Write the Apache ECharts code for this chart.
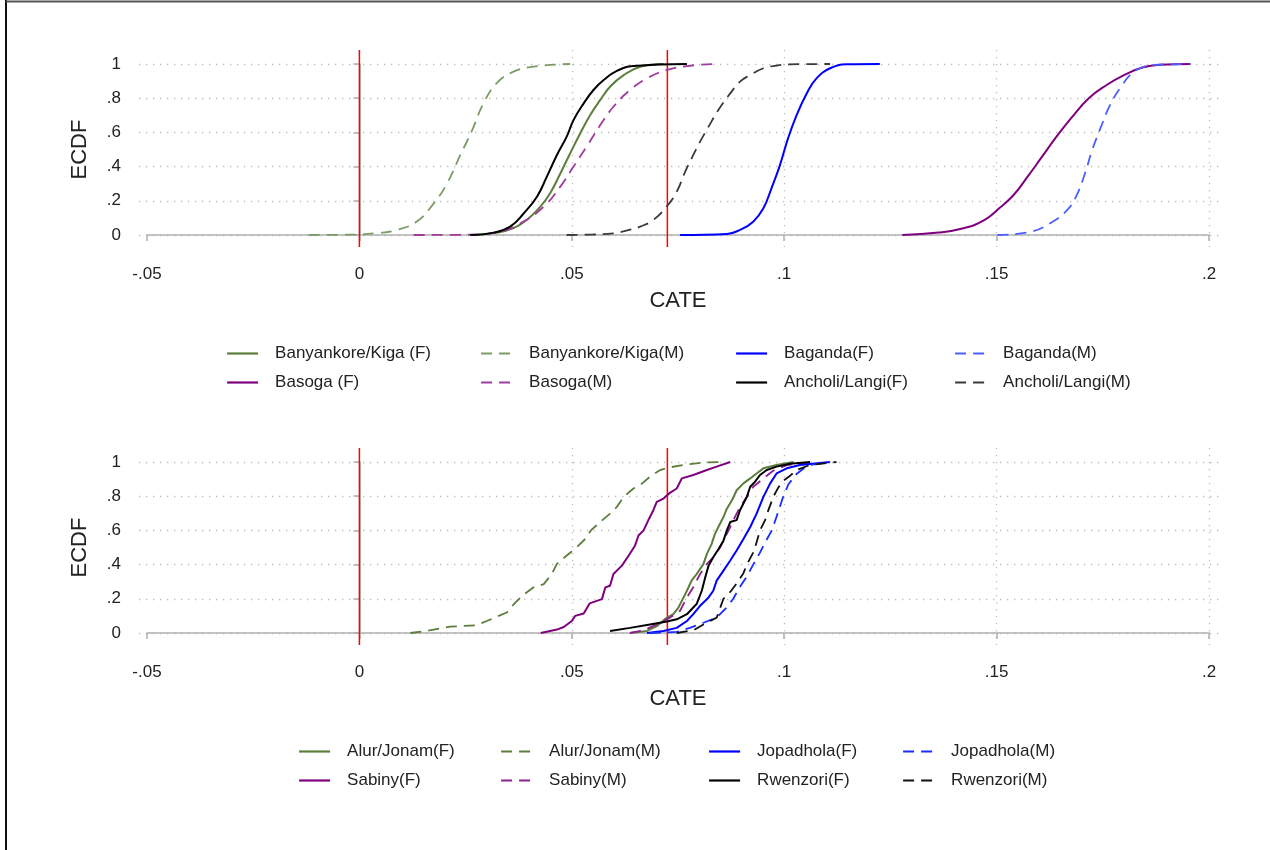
<!DOCTYPE html>
<html><head><meta charset="utf-8">
<script src="https://cdn.jsdelivr.net/npm/echarts@6/dist/echarts.min.js"></script>
<style>html,body{margin:0;padding:0;background:#fff}#c{width:1270px;height:850px}</style>
</head><body><div id="c"></div>
<script>
// ---------- tick labels & reference lines ----------
const xTickLabels = ['-.05', '0', '.05', '.1', '.15', '.2'];
const yTickLabels = ['0', '.2', '.4', '.6', '.8', '1'];
const refLines = [0, 0.0725];

// ---------- top panel: [CATE, ECDF] ----------
const banyankoreF = [[0.0265,0],[0.0324,0.014],[0.0363,0.04],[0.0394,0.088],[0.0426,0.166],[0.0449,0.244],[0.0473,0.36],[0.0496,0.477],[0.0520,0.595],[0.0543,0.70],[0.0567,0.79],[0.0590,0.867],[0.0622,0.935],[0.0661,0.984],[0.0716,1]];
const banyankoreM = [[-0.0119,0],[-0.002,0.002],[0.0045,0.012],[0.0089,0.03],[0.0136,0.08],[0.0175,0.185],[0.0206,0.30],[0.0238,0.47],[0.0265,0.61],[0.0292,0.77],[0.0324,0.89],[0.0363,0.955],[0.041,0.985],[0.0496,1]];
const bagandaF = [[0.0755,0],[0.0865,0.006],[0.0896,0.03],[0.0927,0.078],[0.0951,0.156],[0.097,0.273],[0.099,0.409],[0.1009,0.565],[0.1029,0.70],[0.1053,0.828],[0.1076,0.916],[0.1108,0.975],[0.1147,0.998],[0.1225,1]];
const bagandaM = [[0.1502,0],[0.1582,0.02],[0.1632,0.078],[0.1666,0.146],[0.1687,0.224],[0.1708,0.36],[0.1725,0.497],[0.1746,0.634],[0.1767,0.76],[0.1793,0.867],[0.1818,0.945],[0.1843,0.98],[0.1868,0.994],[0.1957,1]];
const basogaF = [[0.1278,0],[0.1363,0.014],[0.1422,0.039],[0.1472,0.088],[0.1506,0.156],[0.154,0.234],[0.1573,0.341],[0.1607,0.458],[0.1641,0.575],[0.1675,0.682],[0.1717,0.80],[0.1759,0.877],[0.1801,0.936],[0.1843,0.98],[0.1885,0.996],[0.1957,1]];
const basogaM = [[0.0128,0],[0.0261,0.002],[0.0332,0.02],[0.0379,0.068],[0.0434,0.166],[0.0473,0.283],[0.0504,0.40],[0.0535,0.517],[0.0567,0.643],[0.0598,0.75],[0.0637,0.848],[0.0677,0.916],[0.0724,0.965],[0.0771,0.988],[0.0833,1]];
const ancholiF = [[0.0261,0],[0.0316,0.014],[0.0355,0.049],[0.0387,0.127],[0.0418,0.224],[0.0441,0.34],[0.0465,0.468],[0.0488,0.575],[0.0504,0.672],[0.0528,0.77],[0.0551,0.848],[0.0575,0.906],[0.0606,0.96],[0.0645,0.988],[0.0771,1]];
const ancholiM = [[0.0488,0],[0.055,0.003],[0.0598,0.01],[0.0635,0.03],[0.0661,0.049],[0.0692,0.088],[0.0726,0.175],[0.0747,0.253],[0.0767,0.37],[0.0786,0.468],[0.0802,0.546],[0.0822,0.634],[0.0845,0.731],[0.0873,0.828],[0.0896,0.897],[0.092,0.936],[0.0951,0.975],[0.0974,0.988],[0.1013,0.998],[0.1108,1]];

// ---------- bottom panel ----------
const alurF = [[0.0637,0],[0.0677,0.012],[0.070,0.04],[0.0724,0.09],[0.0739,0.11],[0.0751,0.149],[0.0759,0.188],[0.0771,0.247],[0.0782,0.306],[0.0794,0.345],[0.081,0.404],[0.0818,0.463],[0.0829,0.52],[0.0837,0.58],[0.0845,0.62],[0.0857,0.678],[0.0865,0.727],[0.0877,0.776],[0.0888,0.835],[0.0904,0.875],[0.092,0.904],[0.0935,0.933],[0.0951,0.963],[0.0982,0.982],[0.1022,1]];
const alurM = [[0.012,0],[0.0159,0.012],[0.0214,0.037],[0.0273,0.045],[0.030,0.07],[0.0328,0.10],[0.0347,0.12],[0.0367,0.178],[0.0387,0.224],[0.041,0.267],[0.0434,0.286],[0.0453,0.345],[0.0465,0.404],[0.0488,0.453],[0.0512,0.502],[0.0532,0.551],[0.0545,0.6],[0.0567,0.649],[0.059,0.698],[0.0606,0.737],[0.0622,0.796],[0.0645,0.845],[0.0661,0.865],[0.0684,0.914],[0.0708,0.953],[0.0731,0.969],[0.0778,0.988],[0.0817,0.998],[0.0857,1]];
const jopadholaF = [[0.0677,0],[0.0716,0.012],[0.0747,0.03],[0.0771,0.07],[0.0786,0.11],[0.0802,0.159],[0.0822,0.208],[0.0833,0.247],[0.0841,0.306],[0.0857,0.365],[0.0873,0.424],[0.0888,0.482],[0.0904,0.55],[0.092,0.62],[0.0935,0.698],[0.0951,0.796],[0.0967,0.875],[0.0982,0.933],[0.1006,0.963],[0.1037,0.982],[0.1108,1]];
const jopadholaM = [[0.0684,0],[0.0747,0.006],[0.0778,0.03],[0.081,0.06],[0.0841,0.09],[0.0865,0.15],[0.088,0.2],[0.0896,0.27],[0.0912,0.33],[0.0927,0.4],[0.0943,0.47],[0.0955,0.53],[0.0971,0.6],[0.0982,0.68],[0.0998,0.8],[0.1010,0.87],[0.1029,0.93],[0.1045,0.96],[0.106,0.982],[0.1108,1]];
const sabinyF = [[0.0427,0],[0.0465,0.02],[0.0481,0.035],[0.050,0.07],[0.0508,0.10],[0.0528,0.114],[0.0542,0.173],[0.0571,0.198],[0.0579,0.267],[0.059,0.276],[0.0598,0.345],[0.0618,0.394],[0.0634,0.453],[0.0649,0.512],[0.0657,0.57],[0.0669,0.60],[0.068,0.659],[0.0692,0.718],[0.070,0.767],[0.0716,0.786],[0.0731,0.82],[0.0747,0.845],[0.0759,0.904],[0.0786,0.924],[0.0818,0.953],[0.0841,0.973],[0.0873,1]];
const sabinyM = [[0.0637,0],[0.0669,0.016],[0.070,0.05],[0.0731,0.09],[0.0755,0.13],[0.0771,0.208],[0.0786,0.267],[0.0802,0.345],[0.0818,0.404],[0.0833,0.443],[0.0849,0.50],[0.0865,0.58],[0.0873,0.62],[0.0884,0.678],[0.0896,0.737],[0.0912,0.796],[0.0927,0.855],[0.0951,0.904],[0.0974,0.949],[0.1006,0.982],[0.1076,1]];
const rwenzoriF = [[0.059,0.012],[0.0637,0.03],[0.0684,0.05],[0.0724,0.067],[0.0747,0.08],[0.0771,0.11],[0.0786,0.149],[0.0794,0.17],[0.0806,0.247],[0.0814,0.325],[0.0822,0.394],[0.0833,0.443],[0.0845,0.49],[0.0857,0.54],[0.0865,0.60],[0.0873,0.649],[0.0888,0.66],[0.0896,0.718],[0.0904,0.757],[0.0912,0.796],[0.092,0.855],[0.0931,0.884],[0.0943,0.924],[0.0959,0.953],[0.0982,0.973],[0.1014,0.99],[0.1061,1]];
const rwenzoriM = [[0.0747,0],[0.0786,0.016],[0.081,0.05],[0.0841,0.09],[0.0857,0.2],[0.0873,0.24],[0.0888,0.29],[0.0904,0.35],[0.0912,0.4],[0.0927,0.47],[0.0935,0.53],[0.0943,0.60],[0.0955,0.66],[0.0963,0.72],[0.0975,0.8],[0.0986,0.85],[0.0998,0.89],[0.1014,0.92],[0.1029,0.953],[0.106,0.982],[0.1123,1]];

// ---------- series names (legend order by column) ----------
const topNames = ['Banyankore/Kiga (F)', 'Basoga (F)', 'Banyankore/Kiga(M)', 'Basoga(M)', 'Baganda(F)', 'Ancholi/Langi(F)', 'Baganda(M)', 'Ancholi/Langi(M)'];
const topData = [banyankoreF, basogaF, banyankoreM, basogaM, bagandaF, ancholiF, bagandaM, ancholiM];
const botNames = ['Alur/Jonam(F)', 'Sabiny(F)', 'Alur/Jonam(M)', 'Sabiny(M)', 'Jopadhola(F)', 'Rwenzori(F)', 'Jopadhola(M)', 'Rwenzori(M)'];
const botData = [alurF, sabinyF, alurM, sabinyM, jopadholaF, rwenzoriF, jopadholaM, rwenzoriM];

// ---------- styles ----------
const topStyles = [
  {c:'#5b7e3c', d:false}, {c:'#7f007f', d:false}, {c:'#7c9c67', d:true}, {c:'#a03ca0', d:true},
  {c:'#0000ff', d:false}, {c:'#000000', d:false}, {c:'#4d5eff', d:true}, {c:'#3a3a3a', d:true}
];
const botStyles = [
  {c:'#5b7e3c', d:false}, {c:'#7f007f', d:false}, {c:'#5b7e3c', d:true}, {c:'#8f1f8f', d:true},
  {c:'#0000ff', d:false}, {c:'#000000', d:false}, {c:'#1a2cff', d:true}, {c:'#111111', d:true}
];
const FONT = "'Liberation Sans', Arial, sans-serif";
const PANEL_DY = [0, 398];
const LEGEND_COLS = [[226, 480, 735, 954], [298, 500, 708, 902]];
const AXIS_COLOR = '#b0b0b0';
const GRID_COLOR = '#bdbdbd';

const grids = [], xAxes = [], yAxes = [], series = [], legends = [];

[[topNames, topData, topStyles, true], [botNames, botData, botStyles, false]].forEach(([names, datas, styles, smooth], p) => {
  const dy = PANEL_DY[p];
  const base = grids.length;
  grids.push({left: 147, width: 1062, top: 64 + dy, height: 171});
  grids.push({left: 139, width: 1081, top: 64 + dy, height: 171});
  grids.push({left: 147, width: 1062, top: 50 + dy, height: 197});

  xAxes.push({
    gridIndex: base, type: 'value', min: -0.05, max: 0.2, interval: 0.05, offset: 12,
    axisLine: {show: true, lineStyle: {color: AXIS_COLOR, width: 1.7}},
    axisTick: {show: true, length: 6, lineStyle: {color: AXIS_COLOR, width: 1.5}},
    axisLabel: {formatter: (v, i) => xTickLabels[i], margin: 19, fontSize: 17, color: '#222', fontFamily: FONT},
    splitLine: {show: false},
    name: 'CATE', nameLocation: 'middle', nameGap: 43,
    nameTextStyle: {fontSize: 22, color: '#222', fontFamily: FONT}
  });
  yAxes.push({
    gridIndex: base, type: 'value', min: 0, max: 1, interval: 0.2, offset: 14,
    axisLine: {show: true, lineStyle: {color: AXIS_COLOR, width: 1.7}},
    axisTick: {show: true, length: 6, lineStyle: {color: AXIS_COLOR, width: 1.5}},
    axisLabel: {formatter: (v, i) => yTickLabels[i], margin: 12, fontSize: 17, color: '#222', fontFamily: FONT},
    splitLine: {show: false},
    name: 'ECDF', nameLocation: 'middle', nameGap: 42,
    nameTextStyle: {fontSize: 22, color: '#222', fontFamily: FONT}
  });
  xAxes.push({gridIndex: base + 1, type: 'value', min: 0, max: 1, show: false});
  yAxes.push({
    gridIndex: base + 1, type: 'value', min: 0, max: 1, interval: 0.2,
    axisLine: {show: false}, axisTick: {show: false}, axisLabel: {show: false},
    splitLine: {show: true, lineStyle: {color: GRID_COLOR, width: 1.3, type: [1.3, 5.7]}}
  });
  xAxes.push({
    gridIndex: base + 2, type: 'value', min: -0.05, max: 0.2, interval: 0.05,
    axisLine: {show: false}, axisTick: {show: false}, axisLabel: {show: false},
    splitLine: {show: true, showMinLine: false, lineStyle: {color: GRID_COLOR, width: 1.3, type: [1.3, 5.7]}}
  });
  yAxes.push({gridIndex: base + 2, type: 'value', min: 0, max: 1, show: false});

  refLines.forEach((rv, k) => {
    series.push({
      type: 'line', name: 'ref' + p + k, xAxisIndex: base + 2, yAxisIndex: base + 2,
      data: [[rv, 0], [rv, 1]], symbol: 'none', silent: true, z: 2,
      lineStyle: {color: '#ff0000', width: 1.5}
    });
  });

  names.forEach((nm, k) => {
    const st = styles[k];
    series.push({
      type: 'line', name: nm, xAxisIndex: base, yAxisIndex: base, data: datas[k],
      symbol: 'none', smooth: smooth ? 0.45 : false, z: 3,
      lineStyle: {color: st.c, width: st.d ? 1.8 : 2, type: st.d ? [11, 7] : 'solid'},
      itemStyle: {color: st.c}
    });
  });

  for (let col = 0; col < 4; col++) {
    legends.push({
      orient: 'vertical', left: LEGEND_COLS[p][col], top: 345 + dy, padding: 0,
      itemWidth: 31, itemHeight: 12, itemGap: 12, selectedMode: false,
      itemStyle: {opacity: 0},
      lineStyle: {width: 2.2},
      data: [names[2 * col], names[2 * col + 1]],
      textStyle: {fontSize: 17, color: '#222', fontFamily: FONT, padding: [0, 0, 0, 12], lineHeight: 16}
    });
  }
});

const chart = echarts.init(document.getElementById('c'), null, {renderer: 'canvas'});
chart.setOption({
  animation: false,
  backgroundColor: '#ffffff',
  grid: grids, xAxis: xAxes, yAxis: yAxes, series: series, legend: legends,
  graphic: [
    {type: 'line', shape: {x1: 6, y1: 0, x2: 6, y2: 850}, style: {stroke: '#111', lineWidth: 2}},
    {type: 'line', shape: {x1: 6, y1: 1.5, x2: 1270, y2: 1.5}, style: {stroke: '#555', lineWidth: 2}}
  ]
});
</script></body></html>
